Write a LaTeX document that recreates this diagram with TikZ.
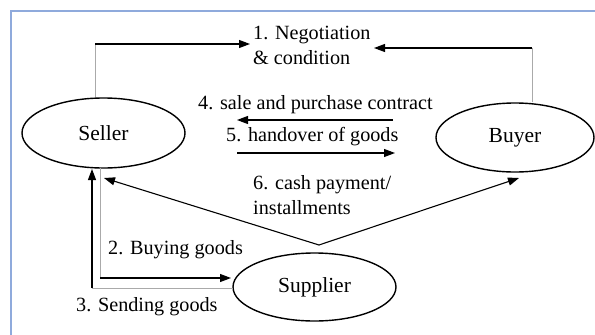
\documentclass[tikz,border=0pt]{standalone}
\usepackage{fontspec}
\setmainfont{Liberation Serif}
\usetikzlibrary{arrows.meta,shapes.geometric}
\definecolor{frameblue}{RGB}{143,170,220}
\definecolor{lightline}{RGB}{170,170,170}
\begin{document}
\begin{tikzpicture}[x=1pt,y=-1pt,
  actor/.style={draw,ellipse,line width=1.4pt,inner sep=0pt,font=\fontsize{21.5}{25}\selectfont},
  lbl/.style={inner sep=0pt,anchor=west,align=left,font=\fontsize{20.2}{25}\selectfont},
  conn/.style={draw=black,line width=1.1pt,-{Triangle[length=11pt,width=8pt]}},
  pale/.style={draw=lightline,line width=1pt}]
\useasboundingbox (0,0) rectangle (595,335);
\fill[white] (0,0) rectangle (595,335);
\draw[frameblue,line width=2pt] (11,335) -- (11,11) -- (595,11);

% actors
\node[actor,minimum width=163pt,minimum height=70pt] (seller) at (103.5,133) {Seller};
\node[actor,minimum width=158pt,minimum height=69pt] (buyer) at (515,137.5) {Buyer};
\node[actor,minimum width=163pt,minimum height=68pt] (supplier) at (314.5,287) {Supplier};

% labels
\node[lbl] (neg) at (253,45.5) {1. Negotiation\\\& condition};
\node[lbl] (contract) at (198,105) {4. sale and purchase contract};
\node[lbl] (handover) at (226,137) {5. handover of goods};
\node[lbl] (cash) at (253,195.5) {6. cash payment/\\installments};
\node[lbl] (buying) at (108,250) {2. Buying goods};
\node[lbl] (sending) at (76,307) {3. Sending goods};

% coordinates
\coordinate (s1) at (95,44);
\coordinate (n1l) at (250,44);
\coordinate (b1) at (532,48);
\coordinate (n1r) at (374,48);
\coordinate (c4a) at (393,120);
\coordinate (c4b) at (237,120);
\coordinate (c5a) at (237,153);
\coordinate (c5b) at (395,153);
\coordinate (v) at (319,245);
\coordinate (t6s) at (104,178);
\coordinate (t6b) at (519,178);
\coordinate (c2top) at (100,168);
\coordinate (c2) at (100,278);
\coordinate (t2) at (231,278);
\coordinate (c3s) at (233,288);
\coordinate (c3) at (92,288);
\coordinate (t3) at (92,169);

% 1. negotiation
\draw[pale] (seller.north -| s1) -- (s1);
\draw[conn] (s1) -- (n1l);
\draw[pale] (buyer.north -| b1) -- (b1);
\draw[conn] (b1) -- (n1r);

% 4, 5
\draw[conn] (c4a) -- (c4b);
\draw[conn] (c5a) -- (c5b);

% 6
\draw[conn] (v) -- (t6s);
\draw[conn] (v) -- (t6b);

% 2
\draw[pale] (c2top) -- (c2);
\draw[conn] (c2) -- (t2);

% 3
\draw[pale] (c3s) -- (c3);
\draw[conn] (c3) -- (t3);
\end{tikzpicture}
\end{document}
